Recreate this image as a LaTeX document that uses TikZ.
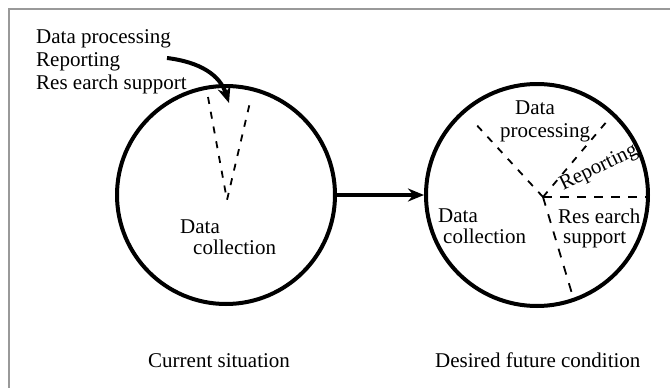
\documentclass[tikz,border=0pt]{standalone}
\usepackage{fontspec}
\setmainfont{Liberation Serif}
\usetikzlibrary{arrows.meta}

\begin{document}
\begin{tikzpicture}[x=1pt, y=-1pt,
    every node/.style={font=\fontsize{21}{23}\selectfont, inner sep=0pt},
    ring/.style={draw, circle, line width=4pt},
    split/.style={line width=1.8pt, dash pattern=on 7pt off 8pt},
    bigarrow/.style={line width=4pt, -{Stealth[length=16pt, width=13pt]}}]
        \useasboundingbox (0,0) rectangle (670,388);
        \draw[gray!80, line width=1.2pt] (9,388) -- (9,9) -- (670,9);

        % Current situation
        \node[ring, minimum size=218pt] (cur) at (226,195) {};
        \node[anchor=north west, align=left] (tasks) at (36,29)
            {Data processing\\Reporting\\Res earch support};
        \coordinate (grab) at (167,58);
        \coordinate (drop) at (229,103);
        \draw[bigarrow] (grab) .. controls (200,62) and (220,75) .. (drop);
        \coordinate (tip) at (227,200);
        \coordinate (vleft) at (208,97);
        \coordinate (vright) at (251,98);
        \draw[split] (vleft) -- (tip) -- (vright);
        \node[anchor=base west] (cdata) at (180,233) {Data};
        \node[anchor=base west] (ccoll) at (193,254) {collection};
        \node[anchor=base west] (curlabel) at (148,367) {Current situation};

        % Desired future condition
        \node[ring, minimum size=222pt] (fut) at (537,195) {};
        \draw[bigarrow] (cur.east) -- (fut.west);
        \coordinate (hub) at (543,197);
        \coordinate (ul) at (472,120);
        \coordinate (ur) at (608,120);
        \coordinate (rt) at (648,197);
        \coordinate (dn) at (573,297);
        \draw[split] (hub) -- (ul);
        \draw[split] (hub) -- (ur);
        \draw[split, dash pattern=on 9pt off 8pt] (hub) -- (rt);
        \draw[split, dash pattern=on 9pt off 9pt] (hub) -- (dn);
        \node[anchor=base] (pdata) at (535,114) {Data};
        \node[anchor=base west] (pproc) at (500,137) {processing};
        \node[rotate=26] (rep) at (599,168) {Reporting};
        \node[anchor=base west] (fdata) at (438,222) {Data};
        \node[anchor=base west] (fcoll) at (443,243) {collection};
        \node[anchor=base west] (res) at (558,223) {Res earch};
        \node[anchor=base west] (sup) at (563,243) {support};
        \node[anchor=base west] (futlabel) at (435,367) {Desired future condition};
    \end{tikzpicture}
\end{document}
